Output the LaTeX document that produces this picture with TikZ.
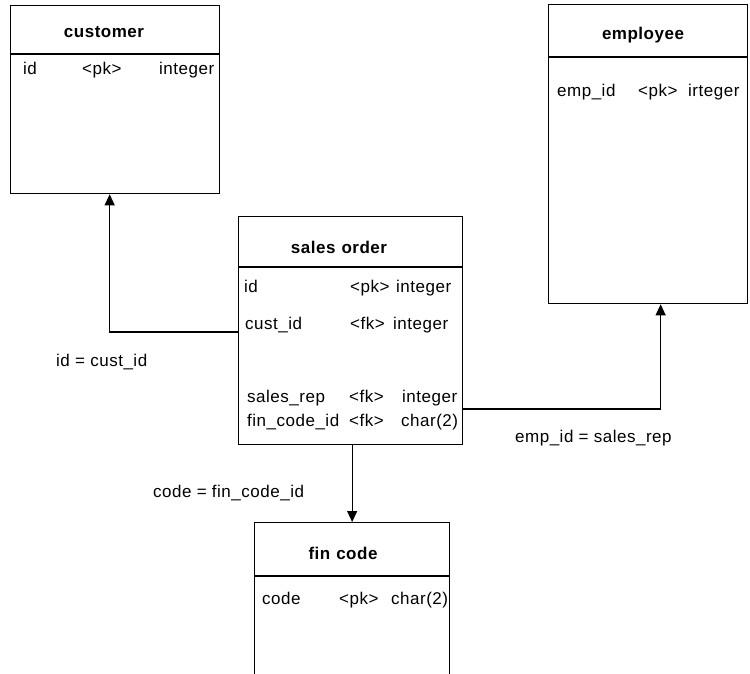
\documentclass[tikz,border=0pt]{standalone}
\usepackage{fontspec}
\setmainfont{Liberation Sans}[LetterSpace=3]
\usetikzlibrary{arrows.meta,positioning,calc}
\tikzset{x=1pt, y=-1pt, % One unit per pixel of the layout, y going down
        every node/.style={ % Sets the text of every node
            font=\fontsize{17}{20}\selectfont,
            inner sep=0pt},
        table/.style={ % Box of one table
            draw,
            line width=1.3pt,
            anchor=north west},
        title/.style={ % Table name in the header
            font=\fontsize{17}{20}\selectfont\bfseries},
        field/.style={ % One column entry
            anchor=west,
            text height=12pt,
            text depth=4pt},
        fk/.style={ % Reference from a foreign key to its table
            draw,
            line width=1.2pt,
            -{Triangle[width=10pt,length=11pt]}}
        }

\begin{document}
\begin{tikzpicture}
    \useasboundingbox (0,0) rectangle (750,673);
    \clip (0,0) rectangle (750,673);

    % tables
    \node[table, minimum width=209pt, minimum height=188pt] (customer)   at (10,5)    {};
    \node[table, minimum width=199pt, minimum height=299pt] (employee)   at (548,4)   {};
    \node[table, minimum width=224pt, minimum height=228pt] (salesorder) at (238,216) {};
    \node[table, minimum width=195pt, minimum height=200pt] (fincode)    at (254,522) {};

    % header lines
    \draw[line width=1.3pt] (customer.north west)   ++(0,49) -- ++(209,0);
    \draw[line width=1.3pt] (employee.north west)   ++(0,53) -- ++(199,0);
    \draw[line width=1.3pt] (salesorder.north west) ++(0,51) -- ++(224,0);
    \draw[line width=1.3pt] (fincode.north west)    ++(0,54) -- ++(195,0);

    % customer
    \node[title] (customertitle) at (104,32) {customer};
    \node[field] (custid)   at (23,70)  {id};
    \node[field] (custpk)   at (82,70)  {<pk>};
    \node[field] (custtype) at (159,70) {integer};

    % employee
    \node[title] (employeetitle) at (643,35) {employee};
    \node[field] (empid)   at (557,92) {emp\_id};
    \node[field] (emppk)   at (638,92) {<pk>};
    \node[field] (emptype) at (688,92) {irteger};

    % sales order
    \node[title] (salesordertitle) at (339,247) {sales\hspace{0.35em}order};
    \node[field] (orderid)      at (244,288) {id};
    \node[field] (orderpk)      at (350,288) {<pk>};
    \node[field] (ordertype)    at (396,288) {integer};
    \node[field] (ordercust)    at (245,325) {cust\_id};
    \node[field] (ordercustfk)  at (350,325) {<fk>};
    \node[field] (ordercusttp)  at (393,325) {integer};
    \node[field] (orderrep)     at (247,398) {sales\_rep};
    \node[field] (orderrepfk)   at (349,398) {<fk>};
    \node[field] (orderreptp)   at (402,398) {integer};
    \node[field] (ordercode)    at (247,422) {fin\_code\_id};
    \node[field] (ordercodefk)  at (349,422) {<fk>};
    \node[field] (ordercodetp)  at (401,422) {char(2)};

    % fin code
    \node[title] (fincodetitle) at (343,553) {fin\hspace{0.35em}code};
    \node[field] (code)     at (262,600) {code};
    \node[field] (codepk)   at (339,600) {<pk>};
    \node[field] (codetype) at (391,600) {char(2)};

    % references
    \coordinate (custfk) at (238,332);
    \coordinate (repfk)  at (462,409);
    \draw[fk] (custfk) -| ([xshift=-5.5pt]customer.south);
    \draw[fk] (repfk)  -| ([xshift=12.5pt]employee.south);
    \draw[fk] (salesorder.south -| fincode.north) -- (fincode.north);

    % join labels
    \node[field] (custjoin) at (56,362)  {id = cust\_id};
    \node[field] (repjoin)  at (515,438) {emp\_id = sales\_rep};
    \node[field] (codejoin) at (153,493) {code = fin\_code\_id};
\end{tikzpicture}
\end{document}
